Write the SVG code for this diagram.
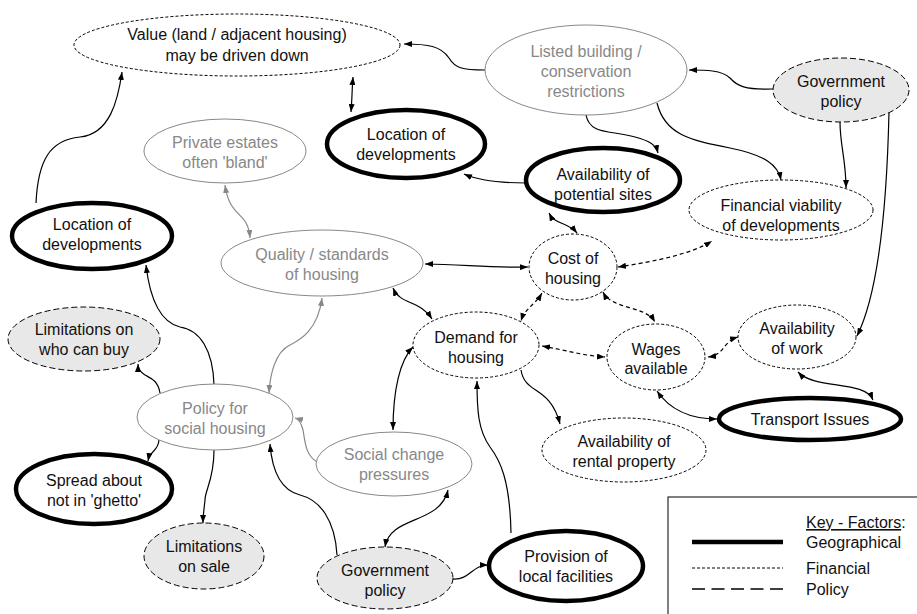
<svg xmlns="http://www.w3.org/2000/svg" width="917" height="614" viewBox="0 0 917 614">
<defs>
<marker id="ab" viewBox="0 0 8 6" refX="8" refY="3" markerWidth="8" markerHeight="6" markerUnits="userSpaceOnUse" orient="auto-start-reverse"><path d="M0,0 L8,3 L0,6 z" fill="#000"/></marker>
<marker id="ag" viewBox="0 0 8 6" refX="8" refY="3" markerWidth="8" markerHeight="6" markerUnits="userSpaceOnUse" orient="auto-start-reverse"><path d="M0,0 L8,3 L0,6 z" fill="#888"/></marker>
</defs>
<style>
text{font-family:"Liberation Sans",Arial,Helvetica,sans-serif;font-size:16px;fill:#111;text-anchor:middle}
.geo{fill:#fff;stroke:#000;stroke-width:4.5}
.fin{fill:#fff;stroke:#000;stroke-width:1;stroke-dasharray:3,2}
.pol{fill:#e8e8e8;stroke:#000;stroke-width:1;stroke-dasharray:6,3}
.gry{fill:#fff;stroke:#888;stroke-width:1}
.gt{fill:#888}
.c{fill:none;stroke:#000;stroke-width:1.2}
.cd{fill:none;stroke:#000;stroke-width:1.2;stroke-dasharray:4,3}
.cg{fill:none;stroke:#888;stroke-width:1.2}
.e{marker-end:url(#ab)}
.b{marker-start:url(#ab);marker-end:url(#ab)}
.eg{marker-end:url(#ag)}
.bg{marker-start:url(#ag);marker-end:url(#ag)}
.ks{text-anchor:start}
</style>
<g id="connectors">
<path class="c e" d="M485,70 C462,70 455,68 449,58 C441,46 428,44 404,44"/>
<path class="c b" d="M353,77 C352,90 352,100 351,112"/>
<path class="c e" d="M36,203 C38,160 50,140 80,137 C110,134 118,100 122,72"/>
<path class="c e" d="M773,89 C745,90 737,86 730,78 C722,70 705,70 689,70"/>
<path class="c e" d="M586,115 C590,135 610,130 635,137 C650,141 656,145 658,153"/>
<path class="c e" d="M657,103 C665,135 690,140 730,148 C765,155 778,165 781,180"/>
<path class="c e" d="M840,122 C840,145 846,160 846,188"/>
<path class="c e" d="M889,112 C887,200 880,290 857,336"/>
<path class="c e" d="M526,183 C500,183 480,181 464,174"/>
<path class="c b" d="M549,213 C555,225 568,222 577,233"/>
<path class="cd b" d="M618,267 C650,262 690,255 712,241"/>
<path class="c b" d="M425,264 C460,264 490,268 528,267"/>
<path class="c b" d="M393,288 C400,305 420,300 432,319"/>
<path class="cd b" d="M542,293 C535,305 525,308 521,321"/>
<path class="cd b" d="M603,292 C612,310 645,305 655,322"/>
<path class="cd b" d="M542,346 C565,350 585,356 605,357"/>
<path class="cd b" d="M708,357 C725,355 722,342 738,337"/>
<path class="c b" d="M798,372 C815,390 865,380 873,400"/>
<path class="c b" d="M657,391 C670,410 690,419 717,419"/>
<path class="c e" d="M521,370 C525,395 550,385 560,424"/>
<path class="c e" d="M511,533 C510,480 500,460 490,447 C478,430 477,410 477,381"/>
<path class="c b" d="M413,347 C400,360 393,390 393,430"/>
<path class="cg bg" d="M322,298 C318,330 300,340 290,345 C275,352 270,375 269,393"/>
<path class="cg bg" d="M225,185 C230,220 248,210 250,238"/>
<path class="cg eg" d="M317,462 C305,455 305,440 303,430 C301,422 299,419 295,418"/>
<path class="c e" d="M214,385 C213,350 200,330 180,327 C160,322 150,300 146,265"/>
<path class="c e" d="M160,393 C158,380 150,378 145,375 C140,372 138,368 138,364"/>
<path class="c e" d="M159,440 C158,452 150,450 148,461"/>
<path class="c e" d="M214,450 C214,480 205,490 205,500 C204,510 203,515 203,523"/>
<path class="c e" d="M337,555 C335,520 320,500 300,495 C280,490 272,470 270,444"/>
<path class="c b" d="M385,547 C390,515 440,525 448,490"/>
<path class="c e" d="M453,579 C470,580 472,565 488,565"/>
</g>
<g id="n-value"><ellipse class="fin" cx="237" cy="45" rx="163" ry="31"/><text x="237" y="40">Value (land / adjacent housing)</text><text x="237" y="61">may be driven down</text></g>
<g id="n-listed"><ellipse class="gry" cx="586" cy="70" rx="101" ry="45"/><text class="gt" x="586" y="57">Listed building /</text><text class="gt" x="586" y="77">conservation</text><text class="gt" x="586" y="97">restrictions</text></g>
<g id="n-gov1"><ellipse class="pol" cx="841" cy="90" rx="68" ry="32"/><text x="841" y="87">Government</text><text x="841" y="107">policy</text></g>
<g id="n-loc1"><ellipse class="geo" cx="406" cy="144" rx="79" ry="34"/><text x="406" y="140">Location of</text><text x="406" y="160">developments</text></g>
<g id="n-sites"><ellipse class="geo" cx="603" cy="180" rx="77" ry="32"/><text x="603" y="180">Availability of</text><text x="603" y="200">potential sites</text></g>
<g id="n-finv"><ellipse class="fin" cx="781" cy="210" rx="92" ry="30"/><text x="781" y="211">Financial viability</text><text x="781" y="231">of developments</text></g>
<g id="n-private"><ellipse class="gry" cx="225" cy="151" rx="81" ry="32"/><text class="gt" x="225" y="148">Private estates</text><text class="gt" x="225" y="168">often 'bland'</text></g>
<g id="n-loc2"><ellipse class="geo" cx="92" cy="236" rx="80" ry="33"/><text x="92" y="230">Location of</text><text x="92" y="250">developments</text></g>
<g id="n-quality"><ellipse class="gry" cx="322" cy="263" rx="101" ry="33"/><text class="gt" x="322" y="260">Quality / standards</text><text class="gt" x="322" y="280">of housing</text></g>
<g id="n-cost"><ellipse class="fin" cx="573" cy="267" rx="44" ry="33"/><text x="573" y="264">Cost of</text><text x="573" y="284">housing</text></g>
<g id="n-whobuy"><ellipse class="pol" cx="84" cy="339" rx="76" ry="32"/><text x="84" y="335">Limitations on</text><text x="84" y="355">who can buy</text></g>
<g id="n-demand"><ellipse class="fin" cx="476" cy="345" rx="63" ry="33"/><text x="476" y="343">Demand for</text><text x="476" y="363">housing</text></g>
<g id="n-wages"><ellipse class="fin" cx="656" cy="357" rx="49" ry="33"/><text x="656" y="355">Wages</text><text x="656" y="374">available</text></g>
<g id="n-work"><ellipse class="fin" cx="797" cy="337" rx="59" ry="32"/><text x="797" y="334">Availability</text><text x="797" y="354">of work</text></g>
<g id="n-transport"><ellipse class="geo" cx="810" cy="419" rx="91" ry="21"/><text x="810" y="425">Transport Issues</text></g>
<g id="n-policysh"><ellipse class="gry" cx="215" cy="417" rx="78" ry="33"/><text class="gt" x="215" y="414">Policy for</text><text class="gt" x="215" y="434">social housing</text></g>
<g id="n-social"><ellipse class="gry" cx="394" cy="464" rx="78" ry="32"/><text class="gt" x="394" y="460">Social change</text><text class="gt" x="394" y="480">pressures</text></g>
<g id="n-ghetto"><ellipse class="geo" cx="94" cy="489" rx="78" ry="35"/><text x="94" y="486">Spread about</text><text x="94" y="506">not in 'ghetto'</text></g>
<g id="n-sale"><ellipse class="pol" cx="204" cy="556" rx="60" ry="33"/><text x="204" y="552">Limitations</text><text x="204" y="572">on sale</text></g>
<g id="n-gov2"><ellipse class="pol" cx="385" cy="578" rx="68" ry="31"/><text x="385" y="576">Government</text><text x="385" y="596">policy</text></g>
<g id="n-provision"><ellipse class="geo" cx="566" cy="566" rx="77" ry="35"/><text x="566" y="562">Provision of</text><text x="566" y="582">local facilities</text></g>
<g id="n-rental"><ellipse class="fin" cx="624" cy="450" rx="82" ry="32"/><text x="624" y="447">Availability of</text><text x="624" y="467">rental property</text></g>
<g id="key">
<rect x="668" y="497" width="260" height="130" fill="#fff" stroke="#000" stroke-width="1"/>
<text class="ks" x="806" y="528"><tspan text-decoration="underline">Key - Factors</tspan>:</text>
<line x1="692" y1="542" x2="783" y2="542" stroke="#000" stroke-width="4.5"/>
<text class="ks" x="806" y="548">Geographical</text>
<line x1="692" y1="568" x2="783" y2="568" stroke="#000" stroke-width="1" stroke-dasharray="3,2"/>
<text class="ks" x="806" y="574">Financial</text>
<line x1="692" y1="589" x2="783" y2="589" stroke="#000" stroke-width="1.5" stroke-dasharray="13,6.5"/>
<text class="ks" x="806" y="595">Policy</text>
</g>
</svg>
